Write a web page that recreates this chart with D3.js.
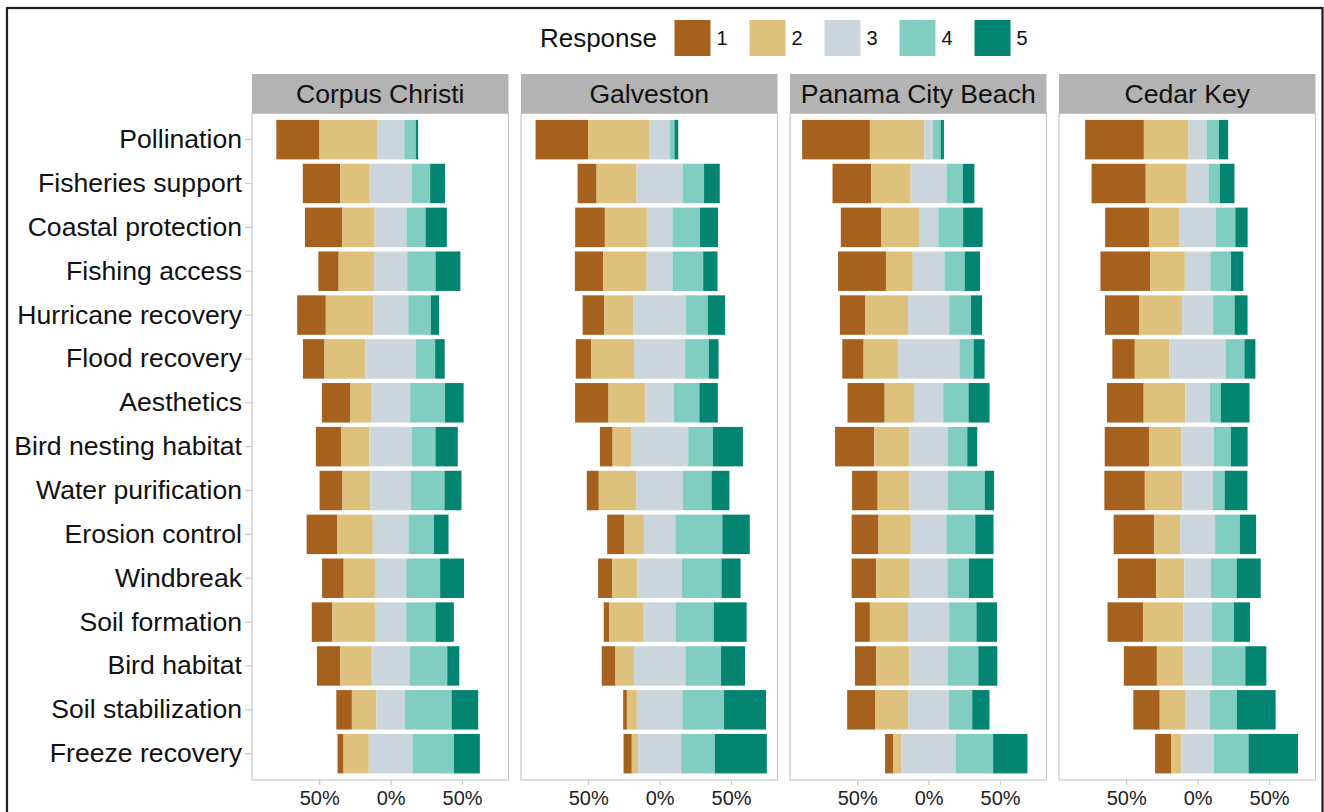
<!DOCTYPE html>
<html>
<head>
<meta charset="utf-8">
<script src="https://cdn.jsdelivr.net/npm/d3@7"></script>
<style>
  html, body { margin: 0; padding: 0; background: #fff; }
  svg { display: block; font-family: "Liberation Sans", Arial, Helvetica, sans-serif; }
</style>
</head>
<body>
<svg id="chart" width="1324" height="812"></svg>
<script>
// Ecosystem services, top to bottom
const categories = [
  "Pollination", "Fisheries support", "Coastal protection", "Fishing access",
  "Hurricane recovery", "Flood recovery", "Aesthetics", "Bird nesting habitat",
  "Water purification", "Erosion control", "Windbreak", "Soil formation",
  "Bird habitat", "Soil stabilization", "Freeze recovery"
];
const responses = ["1", "2", "3", "4", "5"];
const sites = ["Corpus Christi", "Galveston", "Panama City Beach", "Cedar Key"];

// Percent of respondents choosing responses 1..5, one row per category
const corpusChristi = [
  [30.2, 40.2, 19.1, 8.1, 1.6],
  [26.3, 20.5, 29.3, 13.0, 10.5],
  [26.0, 22.8, 22.3, 13.3, 14.9],
  [14.2, 24.7, 23.3, 19.8, 17.4],
  [20.0, 33.0, 24.7, 15.8, 5.8],
  [15.1, 28.6, 35.3, 13.5, 6.7],
  [20.0, 14.4, 27.4, 24.4, 13.0],
  [17.9, 19.5, 29.8, 16.5, 15.6],
  [16.0, 19.5, 28.4, 23.5, 11.9],
  [21.4, 24.9, 24.9, 17.9, 10.2],
  [15.1, 21.9, 21.9, 23.7, 16.7],
  [14.4, 29.8, 21.9, 20.5, 12.8],
  [16.3, 22.1, 26.3, 26.5, 8.4],
  [10.9, 17.2, 19.8, 32.8, 18.6],
  [4.2, 17.7, 30.5, 29.1, 18.1]
];
const galveston = [
  [36.7, 43.2, 13.8, 3.5, 2.6],
  [13.3, 28.0, 32.2, 15.0, 11.0],
  [20.8, 29.4, 17.8, 19.4, 12.6],
  [19.9, 30.4, 18.0, 21.5, 10.0],
  [15.2, 20.1, 37.1, 15.2, 12.1],
  [10.7, 30.1, 35.7, 16.6, 6.8],
  [23.4, 25.7, 20.1, 17.8, 12.9],
  [8.9, 12.9, 40.0, 17.3, 21.0],
  [8.4, 26.2, 32.7, 20.1, 12.4],
  [12.1, 13.6, 22.0, 32.9, 19.2],
  [10.0, 17.5, 31.1, 27.8, 13.3],
  [3.7, 24.3, 22.2, 26.9, 22.9],
  [9.6, 12.9, 36.0, 25.0, 16.8],
  [2.6, 7.0, 31.8, 29.2, 29.4],
  [5.8, 4.4, 30.1, 23.6, 36.4]
];
const panamaCityBeach = [
  [47.4, 38.1, 6.0, 5.6, 2.1],
  [27.0, 27.7, 25.1, 11.4, 8.1],
  [28.4, 26.3, 13.5, 17.4, 13.7],
  [33.5, 18.8, 22.1, 14.2, 10.7],
  [17.7, 30.0, 28.8, 15.3, 7.7],
  [14.9, 24.0, 43.0, 10.0, 7.7],
  [26.0, 20.5, 20.5, 17.7, 14.7],
  [27.4, 24.7, 26.7, 13.7, 7.0],
  [17.9, 22.3, 26.7, 26.0, 6.5],
  [18.8, 22.6, 24.9, 20.2, 12.8],
  [17.2, 23.5, 26.3, 15.1, 17.0],
  [10.5, 26.7, 28.8, 19.1, 14.4],
  [14.9, 23.0, 27.2, 21.2, 13.3],
  [19.5, 23.3, 28.4, 16.3, 12.1],
  [5.8, 5.8, 37.7, 26.3, 24.0]
];
const cedarKey = [
  [41.1, 31.3, 12.6, 8.6, 6.5],
  [37.9, 28.7, 15.2, 7.9, 10.3],
  [30.8, 21.3, 25.2, 13.8, 8.6],
  [34.8, 24.3, 17.8, 14.5, 8.6],
  [24.1, 29.9, 21.7, 15.0, 9.1],
  [15.7, 24.3, 39.3, 13.1, 7.7],
  [25.7, 29.2, 17.1, 7.7, 20.1],
  [31.1, 22.7, 22.4, 12.1, 11.7],
  [28.3, 26.2, 21.5, 8.2, 15.9],
  [28.5, 18.0, 24.5, 17.3, 11.4],
  [26.9, 19.6, 18.7, 18.0, 16.8],
  [25.0, 28.0, 20.1, 15.4, 11.2],
  [23.1, 18.7, 19.6, 23.6, 14.7],
  [18.5, 18.2, 16.6, 19.2, 27.1],
  [11.4, 7.0, 22.7, 24.3, 34.6]
];
const siteValues = [corpusChristi, galveston, panamaCityBeach, cedarKey];

const xTicks = [-50, 0, 50];
const colors = ["#a5611d", "#dec17d", "#cbd6dc", "#81cdc1", "#038571"];

// ---- layout ----
const panelLeft0 = 252, panelW = 256.5, panelGap = 12.5;
const stripTop = 74, panelTop = 113.3, panelBottom = 780;

const svg = d3.select("#chart");

// outer frame
svg.append("rect")
  .attr("x", 7).attr("y", 8)
  .attr("width", 1315.5).attr("height", 840)
  .attr("fill", "none").attr("stroke", "#1e1e1e").attr("stroke-width", 2.2);

const color = d3.scaleOrdinal().domain(responses).range(colors);

const x = d3.scaleLinear().domain([-97, 82.5]).range([0, panelW]);
const y = d3.scaleBand().domain(categories)
  .range([panelTop, panelBottom]).paddingInner(0.1).paddingOuter(0.15);

// diverging stack: neutral response centred on zero
function stackRow(vals) {
  let start = -(vals[0] + vals[1] + vals[2] / 2);
  return vals.map((v, i) => {
    const seg = { key: responses[i], x0: start, x1: start + v };
    start += v;
    return seg;
  });
}

sites.forEach((site, si) => {
  const left = panelLeft0 + si * (panelW + panelGap);
  const g = svg.append("g").attr("transform", `translate(${left},0)`);

  // panel background and border
  g.append("rect")
    .attr("x", 0).attr("y", panelTop)
    .attr("width", panelW).attr("height", panelBottom - panelTop)
    .attr("fill", "#fff").attr("stroke", "#c9c9c9").attr("stroke-width", 1.2);

  // strip
  g.append("rect")
    .attr("x", 0).attr("y", stripTop)
    .attr("width", panelW).attr("height", panelTop - stripTop)
    .attr("fill", "#b3b3b3");
  g.append("text")
    .attr("x", panelW / 2).attr("y", (stripTop + panelTop) / 2)
    .attr("dy", "0.35em").attr("text-anchor", "middle")
    .attr("font-size", 26.6).attr("fill", "#111")
    .text(site);

  // bars
  const rows = siteValues[si].map((vals, ci) => ({ cat: categories[ci], segs: stackRow(vals) }));
  const rowG = g.selectAll("g.row").data(rows).join("g").attr("class", "row");
  rowG.selectAll("rect")
    .data(d => d.segs.map(s => Object.assign({ cat: d.cat }, s)))
    .join("rect")
    .attr("x", d => x(d.x0))
    .attr("width", d => x(d.x1) - x(d.x0))
    .attr("y", d => y(d.cat))
    .attr("height", y.bandwidth())
    .attr("fill", d => color(d.key));

  // x axis
  const xAxis = d3.axisBottom(x).tickValues(xTicks)
    .tickFormat(d => Math.abs(d) + "%").tickSize(5).tickPadding(4);
  const ax = g.append("g").attr("transform", `translate(0,${panelBottom})`).call(xAxis);
  ax.select(".domain").remove();
  ax.selectAll(".tick line").attr("stroke", "#c9c9c9").attr("stroke-width", 1.2);
  ax.selectAll(".tick text")
    .attr("font-size", 20).attr("fill", "#222")
    .attr("font-family", "'Liberation Sans', Arial, sans-serif")
    .attr("y", 11).attr("dy", "0.71em");
});

// y axis on the first panel
const yAxis = d3.axisLeft(y).tickSize(7).tickPadding(3);
const ay = svg.append("g").attr("transform", `translate(${panelLeft0},0)`).call(yAxis);
ay.select(".domain").remove();
ay.selectAll(".tick line").attr("stroke", "#c9c9c9").attr("stroke-width", 1.2);
ay.selectAll(".tick text")
  .attr("font-size", 26.6).attr("fill", "#111")
  .attr("font-family", "'Liberation Sans', Arial, sans-serif");

// legend
const legend = svg.append("g");
legend.append("text")
  .attr("x", 657).attr("y", 38).attr("dy", "0.35em")
  .attr("text-anchor", "end").attr("font-size", 26).attr("fill", "#111")
  .text("Response");
const keys = legend.selectAll("g.key").data(responses).join("g")
  .attr("class", "key")
  .attr("transform", (d, i) => `translate(${674.5 + i * 75},20)`);
keys.append("rect")
  .attr("width", 36).attr("height", 36)
  .attr("fill", d => color(d));
keys.append("text")
  .attr("x", 42).attr("y", 18).attr("dy", "0.35em")
  .attr("font-size", 20).attr("fill", "#111")
  .text(d => d);
</script>
</body>
</html>
